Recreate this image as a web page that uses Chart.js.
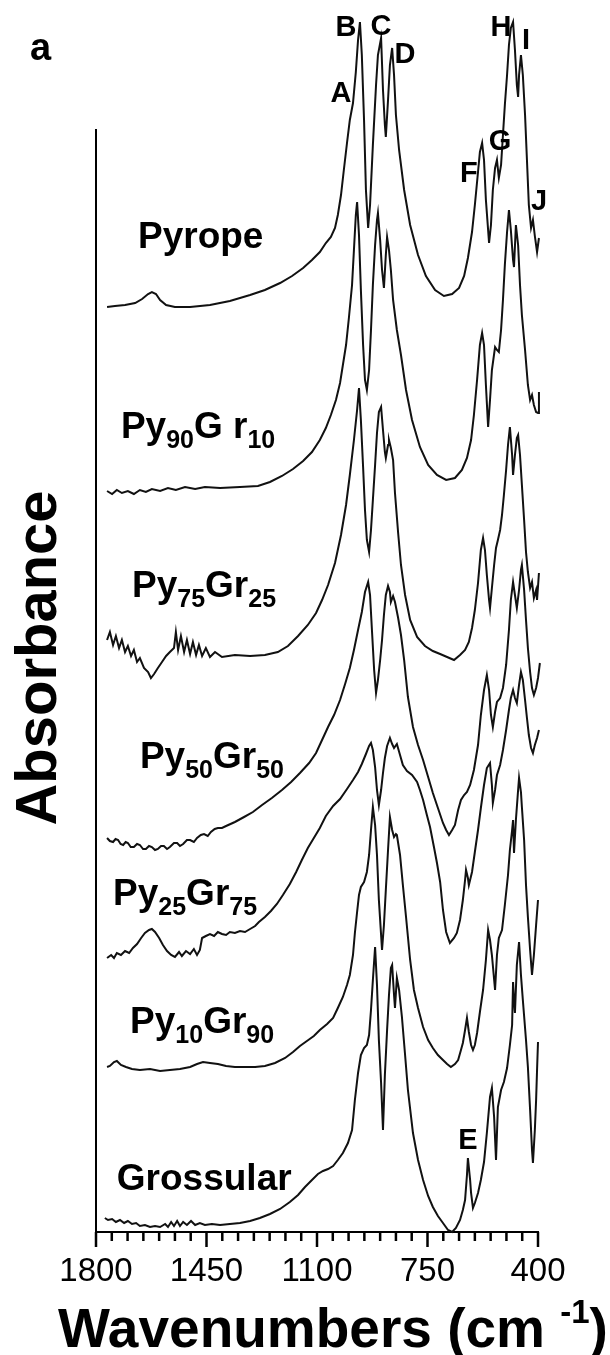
<!DOCTYPE html>
<html>
<head>
<meta charset="utf-8">
<title>IR spectra, pyrope-grossular series</title>
<script src="https://cdn.jsdelivr.net/npm/chart.js@4.4.1/dist/chart.umd.min.js"></script>
<style>
  html, body { margin: 0; padding: 0; background: #fff; }
</style>
</head>
<body>
<canvas id="spectra" width="610" height="1355"></canvas>
<script>
// wavenumber (cm-1), absorbance (arbitrary, stacked offsets as in the figure)
const pyrope = [[1765,9.25],[1740,9.26],[1708,9.27],[1676,9.29],[1654,9.33],[1635,9.38],[1623,9.40],[1610,9.38],[1597,9.32],[1578,9.27],[1550,9.25],[1502,9.25],[1439,9.27],[1376,9.31],[1312,9.37],[1265,9.42],[1217,9.49],[1179,9.56],[1144,9.64],[1116,9.72],[1091,9.80],[1072,9.89],[1056,9.95],[1043,10.04],[1034,10.17],[1024,10.37],[1015,10.62],[1005,10.89],[996,11.12],[986,11.29],[977,11.60],[970,11.92],[964,12.10],[958,11.77],[951,11.12],[945,10.42],[938,10.04],[932,10.27],[923,10.87],[913,11.47],[907,11.77],[897,11.94],[891,11.42],[885,11.07],[882,10.95],[875,11.32],[869,11.67],[862,11.84],[856,11.57],[850,11.17],[840,10.82],[824,10.42],[805,10.07],[780,9.77],[755,9.56],[726,9.42],[698,9.36],[672,9.38],[650,9.44],[634,9.56],[622,9.74],[609,10.00],[600,10.27],[590,10.60],[584,10.80],[577,10.89],[571,10.72],[565,10.32],[555,9.89],[549,10.07],[543,10.42],[536,10.64],[530,10.72],[524,10.54],[517,10.67],[511,10.97],[505,11.27],[498,11.57],[492,11.87],[486,12.04],[479,12.10],[473,11.82],[467,11.47],[463,11.35],[460,11.57],[454,11.77],[448,11.57],[441,11.17],[435,10.72],[429,10.27],[422,10.04],[416,10.12],[410,9.96],[403,9.80],[397,9.94]];

const py90gr10 = [[1765,7.41],[1749,7.38],[1734,7.42],[1718,7.39],[1699,7.41],[1680,7.38],[1661,7.42],[1642,7.40],[1623,7.43],[1597,7.41],[1572,7.44],[1547,7.42],[1518,7.45],[1486,7.43],[1455,7.45],[1407,7.44],[1344,7.45],[1287,7.46],[1249,7.50],[1211,7.56],[1176,7.63],[1144,7.71],[1116,7.80],[1091,7.92],[1072,8.04],[1056,8.17],[1040,8.32],[1027,8.49],[1018,8.67],[1008,8.87],[999,9.14],[989,9.47],[983,9.82],[977,10.17],[973,10.30],[967,9.97],[961,9.42],[954,8.87],[948,8.52],[942,8.42],[935,8.62],[929,9.02],[923,9.47],[916,9.87],[910,10.12],[907,10.19],[900,9.92],[894,9.62],[888,9.44],[882,9.77],[878,9.95],[872,9.82],[866,9.62],[859,9.32],[847,9.02],[834,8.77],[818,8.42],[799,8.12],[774,7.85],[748,7.67],[720,7.57],[691,7.52],[663,7.54],[641,7.62],[625,7.74],[612,7.92],[603,8.17],[593,8.52],[584,8.87],[577,8.99],[571,8.87],[565,8.47],[558,8.05],[552,8.32],[546,8.62],[536,8.85],[530,8.82],[524,8.80],[517,9.02],[511,9.32],[505,9.67],[498,10.00],[492,10.22],[486,10.02],[479,9.72],[476,9.65],[470,10.07],[463,9.87],[457,9.47],[451,9.17],[441,8.82],[432,8.47],[425,8.32],[419,8.37],[413,8.27],[406,8.20],[400,8.19],[397,8.40]];

const py75gr25 = [[1765,5.92],[1756,6.00],[1746,5.87],[1737,5.96],[1727,5.84],[1718,5.92],[1708,5.80],[1699,5.86],[1689,5.76],[1680,5.82],[1670,5.70],[1661,5.74],[1648,5.64],[1635,5.60],[1626,5.54],[1616,5.58],[1604,5.64],[1591,5.70],[1578,5.76],[1566,5.80],[1553,5.84],[1547,6.00],[1540,5.82],[1531,5.96],[1521,5.80],[1512,5.92],[1502,5.78],[1493,5.90],[1483,5.77],[1474,5.87],[1464,5.76],[1452,5.84],[1439,5.75],[1423,5.80],[1401,5.75],[1360,5.77],[1312,5.76],[1265,5.77],[1224,5.80],[1192,5.86],[1160,5.96],[1129,6.07],[1103,6.19],[1084,6.32],[1065,6.47],[1043,6.69],[1024,6.97],[1008,7.27],[996,7.57],[983,7.92],[973,8.22],[967,8.44],[961,8.12],[954,7.65],[948,7.22],[942,6.92],[935,6.80],[929,7.02],[923,7.32],[916,7.67],[910,7.99],[904,8.20],[897,8.25],[891,8.02],[885,7.80],[882,7.74],[875,7.87],[872,7.92],[866,7.84],[859,7.72],[853,7.39],[843,6.99],[834,6.67],[821,6.37],[805,6.12],[783,5.95],[758,5.86],[733,5.81],[710,5.78],[688,5.75],[666,5.72],[647,5.77],[631,5.82],[619,5.90],[609,6.04],[600,6.22],[590,6.49],[581,6.82],[574,6.94],[568,6.82],[562,6.57],[555,6.32],[552,6.24],[546,6.44],[539,6.67],[533,6.84],[527,6.92],[520,7.02],[514,7.17],[508,7.37],[501,7.62],[495,7.87],[489,8.05],[482,7.77],[479,7.57],[473,7.77],[467,7.94],[463,7.97],[457,7.77],[451,7.47],[444,7.12],[438,6.80],[432,6.60],[425,6.44],[419,6.50],[413,6.34],[406,6.42],[403,6.32],[397,6.59]];

const py50gr50 = [[1765,3.94],[1756,3.91],[1746,3.90],[1738,3.93],[1730,3.92],[1722,3.88],[1714,3.87],[1706,3.90],[1699,3.89],[1690,3.85],[1680,3.85],[1670,3.88],[1661,3.87],[1651,3.83],[1642,3.83],[1632,3.86],[1623,3.85],[1613,3.82],[1604,3.83],[1594,3.86],[1585,3.86],[1575,3.83],[1566,3.85],[1553,3.89],[1543,3.89],[1534,3.86],[1524,3.88],[1512,3.92],[1502,3.92],[1490,3.90],[1480,3.94],[1468,3.97],[1458,3.98],[1446,3.96],[1436,4.00],[1424,4.03],[1414,4.04],[1401,4.04],[1388,4.06],[1360,4.10],[1331,4.15],[1303,4.20],[1274,4.27],[1243,4.34],[1211,4.42],[1182,4.50],[1154,4.59],[1125,4.69],[1103,4.79],[1084,4.92],[1065,5.05],[1046,5.17],[1027,5.32],[1011,5.48],[996,5.64],[983,5.82],[970,6.02],[958,6.20],[948,6.40],[938,6.50],[932,6.37],[926,6.02],[919,5.62],[913,5.39],[907,5.52],[900,5.72],[894,5.92],[888,6.17],[882,6.37],[875,6.46],[869,6.40],[866,6.30],[859,6.36],[853,6.30],[843,6.14],[834,5.97],[824,5.72],[812,5.35],[796,5.05],[780,4.87],[764,4.72],[748,4.55],[733,4.39],[717,4.24],[701,4.09],[691,4.02],[682,3.97],[672,4.02],[663,4.07],[653,4.22],[644,4.32],[634,4.37],[625,4.40],[615,4.47],[603,4.62],[590,4.87],[581,5.17],[571,5.42],[562,5.57],[555,5.42],[549,5.17],[543,5.05],[536,5.20],[530,5.30],[520,5.34],[511,5.44],[501,5.67],[492,6.02],[486,6.32],[479,6.50],[473,6.37],[467,6.24],[460,6.42],[454,6.62],[451,6.67],[444,6.42],[438,6.12],[432,5.84],[425,5.60],[419,5.44],[413,5.37],[406,5.44],[400,5.54],[394,5.69]];

const py25gr75 = [[1765,2.74],[1752,2.77],[1743,2.74],[1734,2.79],[1721,2.77],[1708,2.81],[1695,2.79],[1683,2.84],[1670,2.88],[1657,2.94],[1645,2.99],[1632,3.02],[1623,3.03],[1613,3.00],[1600,2.94],[1588,2.87],[1575,2.81],[1562,2.77],[1550,2.75],[1537,2.80],[1528,2.76],[1515,2.81],[1502,2.78],[1490,2.83],[1480,2.77],[1471,2.82],[1464,2.94],[1452,2.96],[1439,2.98],[1426,2.96],[1414,3.00],[1401,2.98],[1388,2.97],[1376,3.00],[1360,2.99],[1344,3.01],[1328,3.00],[1312,3.03],[1296,3.06],[1284,3.10],[1265,3.15],[1246,3.21],[1227,3.28],[1208,3.37],[1186,3.48],[1166,3.60],[1148,3.72],[1129,3.84],[1110,3.94],[1091,4.04],[1072,4.16],[1049,4.26],[1027,4.33],[1005,4.43],[986,4.52],[970,4.60],[958,4.68],[945,4.78],[935,4.86],[929,4.89],[923,4.82],[916,4.65],[910,4.42],[904,4.27],[897,4.42],[891,4.59],[885,4.74],[878,4.86],[869,4.94],[862,4.88],[856,4.84],[847,4.88],[837,4.77],[828,4.67],[815,4.61],[799,4.57],[783,4.50],[774,4.42],[764,4.32],[752,4.17],[742,4.05],[729,3.84],[720,3.69],[710,3.50],[701,3.22],[691,3.00],[679,2.89],[666,2.94],[657,2.99],[647,3.12],[638,3.32],[631,3.52],[628,3.62],[622,3.54],[619,3.47],[609,3.60],[600,3.80],[590,4.02],[581,4.24],[571,4.47],[562,4.64],[552,4.69],[546,4.47],[543,4.29],[536,4.42],[530,4.57],[520,4.67],[511,4.82],[501,5.02],[492,5.22],[486,5.34],[479,5.42],[473,5.34],[467,5.29],[460,5.47],[454,5.60],[448,5.52],[441,5.32],[435,5.14],[429,4.97],[422,4.84],[416,4.79],[410,4.87],[403,4.94],[397,5.02]];

const py10gr90 = [[1765,1.65],[1756,1.66],[1743,1.70],[1734,1.71],[1721,1.67],[1705,1.65],[1686,1.63],[1661,1.62],[1629,1.63],[1597,1.61],[1566,1.62],[1534,1.63],[1502,1.65],[1480,1.68],[1461,1.70],[1439,1.69],[1414,1.68],[1388,1.66],[1360,1.65],[1328,1.65],[1296,1.65],[1265,1.66],[1233,1.69],[1201,1.74],[1176,1.80],[1154,1.86],[1132,1.91],[1110,1.96],[1091,2.02],[1068,2.08],[1049,2.14],[1034,2.24],[1018,2.35],[1005,2.47],[996,2.57],[986,2.77],[980,2.99],[973,3.20],[967,3.37],[961,3.45],[951,3.50],[942,3.60],[935,3.77],[929,4.02],[923,4.25],[916,4.07],[910,3.77],[904,3.32],[897,2.97],[894,2.82],[888,3.07],[882,3.42],[875,3.82],[869,4.15],[862,4.02],[856,3.95],[850,3.98],[847,3.97],[837,3.77],[828,3.47],[818,3.15],[805,2.72],[793,2.42],[780,2.24],[764,2.05],[748,1.92],[733,1.84],[717,1.77],[701,1.72],[688,1.68],[676,1.65],[663,1.68],[653,1.72],[644,1.82],[638,1.89],[631,2.02],[625,2.14],[619,2.00],[612,1.87],[606,1.82],[600,1.87],[593,1.99],[584,2.20],[574,2.42],[565,2.72],[558,3.02],[552,2.92],[546,2.77],[536,2.42],[530,2.77],[524,2.94],[514,3.02],[505,3.27],[495,3.57],[489,3.82],[482,4.02],[479,4.12],[476,3.79],[470,4.12],[463,4.42],[460,4.54],[454,4.40],[451,4.25],[444,3.92],[438,3.47],[432,3.15],[425,2.82],[419,2.57],[413,2.77],[406,3.07],[400,3.32]];

const grossular = [[1772,0.14],[1762,0.12],[1749,0.13],[1737,0.10],[1724,0.12],[1711,0.09],[1699,0.11],[1686,0.08],[1673,0.09],[1661,0.06],[1645,0.07],[1629,0.05],[1613,0.06],[1597,0.05],[1581,0.08],[1572,0.05],[1562,0.10],[1553,0.06],[1543,0.11],[1534,0.06],[1524,0.10],[1512,0.07],[1499,0.11],[1486,0.07],[1471,0.09],[1455,0.07],[1433,0.08],[1407,0.07],[1376,0.08],[1344,0.09],[1312,0.11],[1281,0.14],[1249,0.18],[1217,0.23],[1186,0.30],[1160,0.37],[1138,0.45],[1116,0.52],[1097,0.58],[1081,0.61],[1065,0.63],[1049,0.66],[1034,0.72],[1018,0.79],[1002,0.89],[989,1.02],[980,1.32],[970,1.59],[961,1.77],[951,1.84],[942,1.87],[935,1.97],[929,2.22],[923,2.52],[916,2.85],[910,2.47],[904,1.92],[897,1.49],[891,1.02],[885,1.57],[878,2.02],[872,2.37],[866,2.64],[862,2.67],[856,2.37],[853,2.24],[847,2.54],[840,2.42],[831,2.15],[821,1.77],[812,1.42],[796,0.99],[780,0.72],[764,0.52],[748,0.36],[733,0.25],[717,0.16],[701,0.09],[685,0.02],[672,0.00],[660,0.04],[647,0.12],[638,0.22],[631,0.32],[625,0.57],[622,0.74],[615,0.52],[612,0.39],[606,0.24],[600,0.29],[590,0.39],[581,0.52],[571,0.70],[562,0.99],[552,1.35],[546,1.44],[539,1.15],[533,0.72],[527,1.25],[517,1.42],[508,1.50],[498,1.64],[489,1.87],[482,2.07],[479,2.50],[476,2.32],[473,2.19],[467,2.67],[460,2.90],[454,2.57],[448,2.32],[438,1.92],[432,1.65],[425,1.22],[419,0.82],[416,0.69],[410,1.02],[406,1.32],[403,1.62],[400,1.90]];

// sample names ({..} = subscript), placed at left edge / baseline in data units
const sampleNames = ['Pyrope', 'Py{90}G r{10}', 'Py{75}Gr{25}', 'Py{50}Gr{50}', 'Py{25}Gr{75}', 'Py{10}Gr{90}', 'Grossular'];
const sampleLabelWn = [1667, 1721, 1686, 1661, 1746, 1692, 1734];
const sampleLabelAbs = [9.84, 7.94, 6.35, 4.64, 3.27, 1.99, 0.42];

// band letters
const peakLetters = ['A', 'B', 'C', 'D', 'E', 'F', 'G', 'H', 'I', 'J'];
const peakWn = [1024, 1008, 897, 821, 622, 619, 520, 517, 438, 397];
const peakAbs = [11.38, 12.04, 12.05, 11.77, 0.91, 10.58, 10.90, 12.04, 11.91, 10.30];

const majorTicks = [1800, 1450, 1100, 750, 400];
const minorStep = 50;

const FONT = '"Liberation Sans", Arial, Helvetica, sans-serif';
const series = [pyrope, py90gr10, py75gr25, py50gr50, py25gr75, py10gr90, grossular];

function drawSampleLabel(ctx, text, px, py) {
  let cx = px;
  (text.match(/\{\d+\}|[^{]+/g) || []).forEach((part) => {
    const sub = part.startsWith('{');
    const t = sub ? part.slice(1, -1) : part;
    ctx.font = `bold ${sub ? 25 : 37}px ${FONT}`;
    ctx.fillText(t, cx, sub ? py + 10 : py);
    cx += ctx.measureText(t).width;
  });
}

const decorations = {
  id: 'decorations',
  afterDraw(chart) {
    const { ctx, chartArea, scales: { x, y } } = chart;
    ctx.save();

    // tick marks below the wavenumber axis
    ctx.strokeStyle = '#000';
    ctx.lineWidth = 2.5;
    for (let v = 400; v <= 1800; v += minorStep) {
      const px = x.getPixelForValue(v);
      const len = majorTicks.includes(v) ? 15 : 9;
      ctx.beginPath();
      ctx.moveTo(px, chartArea.bottom);
      ctx.lineTo(px, chartArea.bottom + len);
      ctx.stroke();
    }

    ctx.fillStyle = '#000';

    // band letters
    ctx.font = `bold 29px ${FONT}`;
    ctx.textAlign = 'center';
    ctx.textBaseline = 'middle';
    peakLetters.forEach((t, i) => {
      ctx.fillText(t, x.getPixelForValue(peakWn[i]), y.getPixelForValue(peakAbs[i]));
    });

    // sample names
    ctx.textAlign = 'left';
    ctx.textBaseline = 'alphabetic';
    sampleNames.forEach((t, i) => {
      drawSampleLabel(ctx, t, x.getPixelForValue(sampleLabelWn[i]), y.getPixelForValue(sampleLabelAbs[i]));
    });

    // panel letter
    ctx.font = `bold 38px ${FONT}`;
    ctx.fillText('a', 30, 60);

    // y title
    ctx.save();
    ctx.translate(56, 658);
    ctx.rotate(-Math.PI / 2);
    ctx.textAlign = 'center';
    ctx.font = `bold 58px ${FONT}`;
    ctx.fillText('Absorbance', 0, 0);
    ctx.restore();

    // x title with superscript
    const main = 'Wavenumbers (cm ';
    const sup = '-1';
    const close = ')';
    let tx = 58;
    const ty = 1347;
    ctx.font = `bold 55px ${FONT}`;
    ctx.fillText(main, tx, ty);
    tx += ctx.measureText(main).width;
    ctx.font = `bold 33px ${FONT}`;
    ctx.fillText(sup, tx, ty - 24);
    tx += ctx.measureText(sup).width;
    ctx.font = `bold 55px ${FONT}`;
    ctx.fillText(close, tx, ty);

    ctx.restore();
  }
};

new Chart(document.getElementById('spectra'), {
  type: 'line',
  data: {
    datasets: series.map((pts, i) => ({
      label: sampleNames[i],
      data: pts.map(([wn, a]) => ({ x: wn, y: a })),
      borderColor: '#111',
      borderWidth: 2,
      pointRadius: 0,
      tension: 0,
      fill: false,
      clip: false,
    })),
  },
  options: {
    responsive: false,
    animation: false,
    events: [],
    layout: { padding: { top: 130, right: 72, bottom: 0, left: 0 } },
    plugins: { legend: { display: false }, tooltip: { enabled: false } },
    scales: {
      x: {
        type: 'linear',
        reverse: true,
        min: 400,
        max: 1800,
        afterBuildTicks: (scale) => { scale.ticks = majorTicks.map((value) => ({ value })); },
        afterFit: (scale) => { scale.height = 123; },
        ticks: {
          color: '#000',
          font: { family: FONT, size: 33 },
          padding: 20,
          maxRotation: 0,
          autoSkip: false,
          callback: (value) => String(value),
        },
        grid: { display: false, drawTicks: false },
        border: { display: true, color: '#000', width: 2 },
      },
      y: {
        min: 0,
        max: 11.02,
        afterFit: (scale) => { scale.width = 96; },
        ticks: { display: false },
        grid: { display: false, drawTicks: false },
        border: { display: true, color: '#000', width: 2 },
      },
    },
  },
  plugins: [decorations],
});
</script>
</body>
</html>
